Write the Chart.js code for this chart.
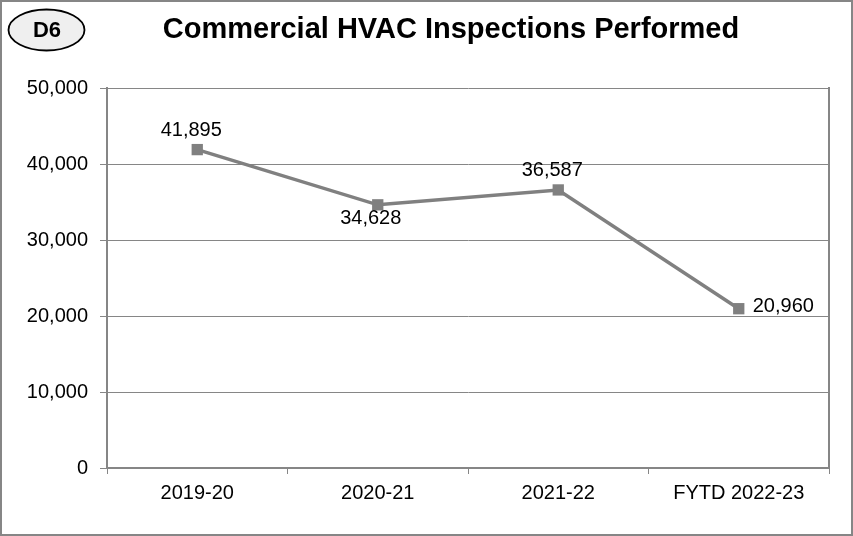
<!DOCTYPE html>
<html>
<head>
<meta charset="utf-8">
<script src="https://cdn.jsdelivr.net/npm/chart.js@4/dist/chart.umd.min.js"></script>
<style>
  html, body { margin: 0; padding: 0; background: #fff; }
  canvas { display: block; }
</style>
</head>
<body>
<canvas id="chart" width="853" height="536"></canvas>
<script>
const categories = ['2019-20', '2020-21', '2021-22', 'FYTD 2022-23'];
const inspections = [41895, 34628, 36587, 20960];
const labelSides = ['above', 'below', 'above', 'right'];
const yTicks = [0, 10000, 20000, 30000, 40000, 50000];

const chartTitle = 'Commercial HVAC Inspections Performed';
const badgeText = 'D6';

const GRAY = '#868686';
const FONT = '"Liberation Sans", Arial, sans-serif';

const fmt = v => v.toLocaleString('en-US');

// Frame, badge and title
const decorPlugin = {
  id: 'decor',
  beforeDraw(chart) {
    const ctx = chart.ctx;
    ctx.save();
    ctx.fillStyle = '#fff';
    ctx.fillRect(0, 0, chart.width, chart.height);
    ctx.restore();
  },
  afterDraw(chart) {
    const ctx = chart.ctx;
    const a = chart.chartArea;
    ctx.save();

    // right edge of plot area
    ctx.strokeStyle = GRAY;
    ctx.lineWidth = 2;
    ctx.beginPath();
    ctx.moveTo(a.right, a.top - 1);
    ctx.lineTo(a.right, a.bottom);
    ctx.stroke();

    // outer frame
    ctx.lineWidth = 2;
    ctx.strokeRect(1, 1, chart.width - 2, chart.height - 2);

    // badge
    ctx.beginPath();
    ctx.ellipse(46.5, 30, 38, 20.5, 0, 0, Math.PI * 2);
    ctx.fillStyle = '#efefef';
    ctx.fill();
    ctx.strokeStyle = '#000';
    ctx.lineWidth = 1.8;
    ctx.stroke();
    ctx.fillStyle = '#000';
    ctx.font = 'bold 22px ' + FONT;
    ctx.textAlign = 'center';
    ctx.textBaseline = 'middle';
    ctx.fillText(badgeText, 47, 31);

    // title
    ctx.font = 'bold 29px ' + FONT;
    ctx.fillText(chartTitle, 451, 30);
    ctx.restore();
  }
};

// Value labels next to each point
const valueLabels = {
  id: 'valueLabels',
  afterDatasetsDraw(chart) {
    const ctx = chart.ctx;
    const meta = chart.getDatasetMeta(0);
    ctx.save();
    ctx.font = '20px ' + FONT;
    ctx.fillStyle = '#000';
    ctx.textBaseline = 'middle';
    meta.data.forEach((pt, i) => {
      const txt = fmt(inspections[i]);
      const side = labelSides[i];
      if (side === 'right') {
        ctx.textAlign = 'left';
        ctx.fillText(txt, pt.x + 14, pt.y - 2);
      } else if (side === 'below') {
        ctx.textAlign = 'center';
        ctx.fillText(txt, pt.x - 7, pt.y + 14);
      } else {
        ctx.textAlign = 'center';
        ctx.fillText(txt, pt.x - 6, pt.y - 19);
      }
    });
    ctx.restore();
  }
};

new Chart(document.getElementById('chart'), {
  type: 'line',
  data: {
    labels: categories,
    datasets: [{
      data: inspections,
      borderColor: '#808080',
      borderWidth: 3.5,
      backgroundColor: '#808080',
      pointStyle: 'rect',
      pointRadius: 8,
      pointBorderWidth: 0,
      pointBackgroundColor: '#808080',
      tension: 0,
      fill: false
    }]
  },
  options: {
    responsive: false,
    animation: false,
    layout: { padding: { top: 88, right: 24, left: 0, bottom: 0 } },
    plugins: {
      legend: { display: false },
      tooltip: { enabled: false }
    },
    scales: {
      x: {
        type: 'category',
        offset: true,
        afterFit: s => { s.height = 68; },
        grid: {
          offset: true,
          drawOnChartArea: false,
          drawTicks: true,
          tickLength: 6,
          color: GRAY,
          lineWidth: 1
        },
        border: { color: GRAY, width: 2 },
        ticks: {
          color: '#000',
          padding: 7,
          maxRotation: 0,
          font: { family: FONT, size: 20 }
        }
      },
      y: {
        min: yTicks[0],
        max: yTicks[yTicks.length - 1],
        afterFit: s => { s.width = 107; },
        afterBuildTicks: s => { s.ticks = yTicks.map(v => ({ value: v })); },
        grid: {
          color: GRAY,
          lineWidth: 1,
          tickLength: 7,
          drawTicks: true
        },
        border: { color: GRAY, width: 2 },
        ticks: {
          color: '#000',
          padding: 12,
          font: { family: FONT, size: 20 },
          callback: v => fmt(v)
        }
      }
    }
  },
  plugins: [decorPlugin, valueLabels]
});
</script>
</body>
</html>
